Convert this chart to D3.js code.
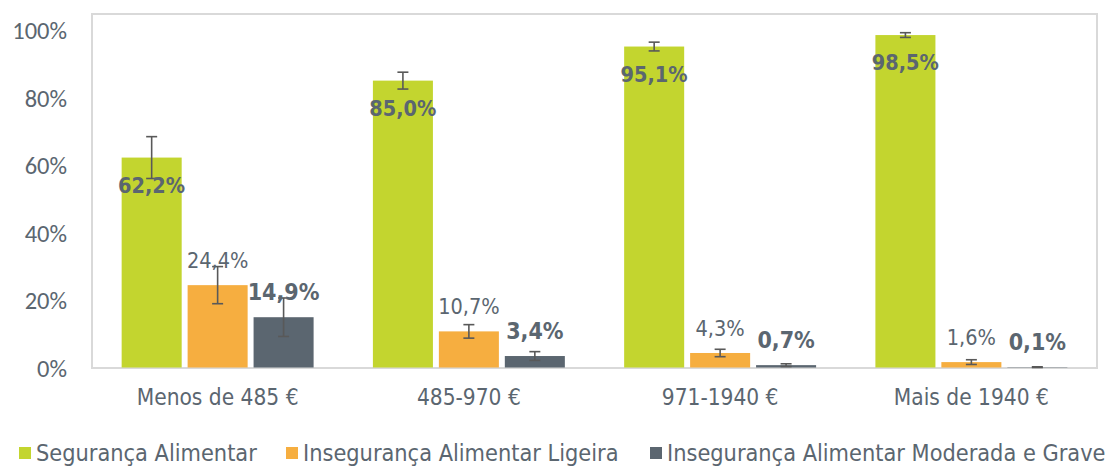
<!DOCTYPE html>
<html lang="pt">
<head>
<meta charset="utf-8">
<script src="https://cdn.jsdelivr.net/npm/d3@7"></script>
<style>
  html, body { margin: 0; padding: 0; background: #ffffff; }
  svg { display: block; }
  .lbl { font-family: "DejaVu Sans Condensed", "DejaVu Sans", sans-serif; font-stretch: condensed; fill: #5b6670; }
  .tick-lbl { font-family: Carlito, Lato, "Open Sans", sans-serif; fill: #5b6670; }
</style>
</head>
<body>
<svg id="chart" width="1113" height="467"></svg>
<script>
// Rendimento mensal do agregado
const categories = ["Menos de 485 €", "485-970 €", "971-1940 €", "Mais de 1940 €"];
const seriesNames = ["Segurança Alimentar", "Insegurança Alimentar Ligeira", "Insegurança Alimentar Moderada e Grave"];
const seguranca = [62.2, 85.0, 95.1, 98.5];
const ligeira = [24.4, 10.7, 4.3, 1.6];
const moderadaGrave = [14.9, 3.4, 0.7, 0.1];
// Semi-amplitude dos intervalos de confiança (pontos percentuais)
const errSeguranca = [6.2, 2.5, 1.3, 0.7];
const errLigeira = [5.5, 2.0, 1.1, 0.7];
const errModeradaGrave = [5.7, 1.3, 0.4, 0.1];
const yTicks = [0, 20, 40, 60, 80, 100];

const colors = ["#c3d52f", "#f6ae40", "#5b6670"];
const values = [seguranca, ligeira, moderadaGrave];
const errors = [errSeguranca, errLigeira, errModeradaGrave];
const labelSizes = [21.5, 21.5, 23];

const svg = d3.select("#chart");
const plot = { left: 92, right: 1097, top: 14, bottom: 368 };

const x = d3.scaleBand().domain(categories)
  .range([plot.left, plot.right]).paddingInner(0.236).paddingOuter(0.118);
const xs = d3.scaleBand().domain(seriesNames)
  .range([0, x.bandwidth()]).paddingInner(0.09);
const y = d3.scaleLinear().domain([0, 100]).range([367.5, 30]);

// Moldura da área do gráfico
svg.append("rect")
  .attr("x", plot.left).attr("y", plot.top)
  .attr("width", plot.right - plot.left).attr("height", plot.bottom - plot.top)
  .attr("fill", "none").attr("stroke", "#d9d9d9").attr("stroke-width", 2);

// Eixo Y
const yAxis = d3.axisLeft(y).tickValues(yTicks).tickSize(0).tickPadding(0)
  .tickFormat(d => d + "%");
const gy = svg.append("g").attr("transform", `translate(67,0)`).call(yAxis);
gy.select(".domain").remove();
gy.selectAll("text").attr("class", "tick-lbl").attr("font-size", 24.5)
  .attr("dy", "0.36em").attr("fill", null);

// Eixo X
const xAxis = d3.axisBottom(x).tickSize(0).tickPadding(0);
const gx = svg.append("g").attr("transform", `translate(0,${plot.bottom})`).call(xAxis);
gx.select(".domain").remove();
gx.selectAll("text").attr("class", "lbl").attr("font-size", 22.5)
  .attr("dy", null).attr("y", 37).attr("fill", null);

// Barras
const rows = categories.map((c, i) => ({ cat: c, i }));
seriesNames.forEach((s, si) => {
  const g = svg.append("g");
  g.selectAll("rect").data(rows).join("rect")
    .attr("x", d => x(d.cat) + xs(s))
    .attr("y", d => y(values[si][d.i]))
    .attr("width", xs.bandwidth())
    .attr("height", d => y(0) - y(values[si][d.i]))
    .attr("fill", colors[si]);
});

// Barras de erro
seriesNames.forEach((s, si) => {
  const g = svg.append("g").attr("stroke", "#595959").attr("stroke-width", 1.6);
  rows.forEach(d => {
    const cx = x(d.cat) + xs(s) + xs.bandwidth() / 2;
    const v = values[si][d.i], e = errors[si][d.i];
    const y1 = y(v + e), y2 = y(Math.max(0, v - e));
    g.append("line").attr("x1", cx).attr("x2", cx).attr("y1", y1).attr("y2", y2);
    g.append("line").attr("x1", cx - 5.5).attr("x2", cx + 5.5).attr("y1", y1).attr("y2", y1);
    g.append("line").attr("x1", cx - 5.5).attr("x2", cx + 5.5).attr("y1", y2).attr("y2", y2);
  });
});

// Rótulos de valores
const fmt = v => v.toFixed(1).replace(".", ",") + "%";
seriesNames.forEach((s, si) => {
  svg.append("g").selectAll("text").data(rows).join("text")
    .attr("class", "lbl")
    .attr("x", d => x(d.cat) + xs(s) + xs.bandwidth() / 2)
    .attr("y", d => si === 0 ? y(values[si][d.i]) + 35 : y(values[si][d.i]) - 17)
    .attr("text-anchor", "middle")
    .attr("font-size", labelSizes[si])
    .attr("font-weight", si === 1 ? "normal" : "bold")
    .text(d => fmt(values[si][d.i]));
});

// Legenda
const legendX = [19, 286, 650];
const lg = svg.append("g");
seriesNames.forEach((s, si) => {
  lg.append("rect").attr("x", legendX[si]).attr("y", 447).attr("width", 12).attr("height", 12)
    .attr("fill", colors[si]);
  lg.append("text").attr("class", "lbl").attr("x", legendX[si] + 17).attr("y", 461)
    .attr("font-size", 23.3).text(s);
});
</script>
</body>
</html>
